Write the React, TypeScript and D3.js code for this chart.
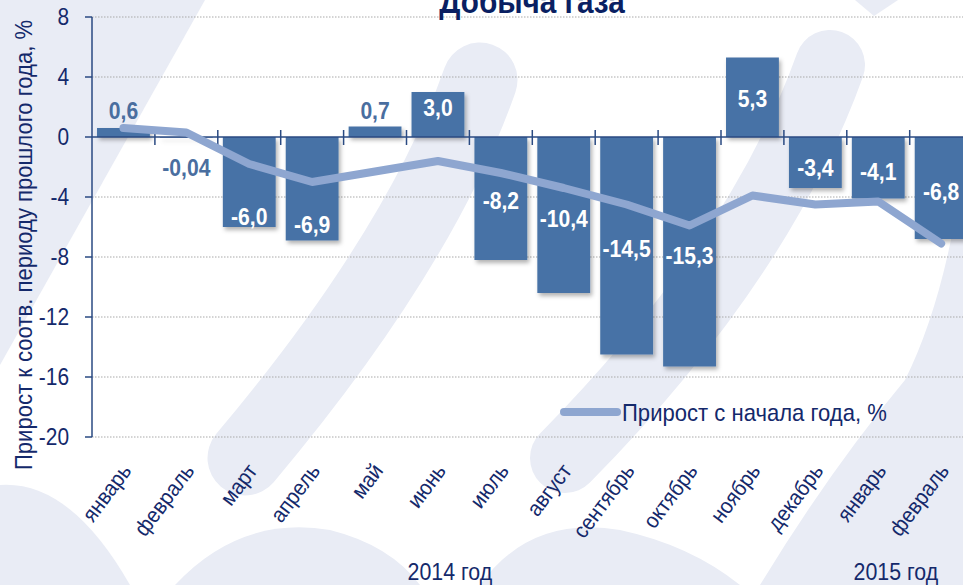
import React from 'react';
import * as d3 from 'd3';

const title = 'Добыча газа';
const yTitle = 'Прирост к соотв. периоду прошлого года, %';
const legendLabel = 'Прирост с начала года, %';
const months = ['январь', 'февраль', 'март', 'апрель', 'май', 'июнь', 'июль', 'август', 'сентябрь', 'октябрь', 'ноябрь', 'декабрь', 'январь', 'февраль'];
const yearLabels = ['2014 год', '2015 год'];
const yearAt = [5.69, 12.78];
const yoy = [0.6, -0.04, -6.0, -6.9, 0.7, 3.0, -8.2, -10.4, -14.5, -15.3, 5.3, -3.4, -4.1, -6.8];
const ytd = [0.6, 0.3, -1.8, -3.0, -2.3, -1.6, -2.4, -3.4, -4.5, -5.9, -3.9, -4.5, -4.3, -7.1];
const labelAt = [1.8, -2.0, -5.3, -5.8, 1.8, 2.0, -4.2, -5.4, -7.4, -7.9, 2.6, -2.0, -2.3, -3.6];
const yTicks = [-20, -16, -12, -8, -4, 0, 4, 8];

const W = 963;
const H = 585;
const NAVY = '#14296b';
const BAR = '#4672a6';
const LINE = '#8ea6d0';
const WM = '#e9ecf5';
const FONT = "'Liberation Sans', Arial, sans-serif";

const fmt = (v: number) => (Math.abs(v) < 0.1 && v !== 0 ? v.toFixed(2) : v.toFixed(1)).replace('.', ',');

type TP = { x: number; y: number; rot?: number; sx?: number; children: React.ReactNode; [k: string]: any };
function T({ x, y, rot = 0, sx = 0.9, children, ...rest }: TP) {
  return (
    <text transform={`translate(${x},${y}) rotate(${rot}) scale(${sx},1)`} {...rest}>
      {children}
    </text>
  );
}

export default function App() {
  const left = 92;
  const step = 62.9;
  const x = d3.scaleBand<number>().domain(d3.range(months.length)).range([left, left + step * months.length]).padding(0);
  const y = d3.scaleLinear().domain([-20, 8]).range([437, 17]);
  const barW = x.bandwidth() * 0.84;
  const cx = (i: number) => (x(i) as number) + x.bandwidth() / 2;
  const xAt = (k: number) => left + k * x.step();

  const line = d3.line<number>().x((_, i) => cx(i)).y((d) => y(d));

  return (
    <svg width={W} height={H} style={{ position: 'absolute', left: 0, top: 0, background: '#fff' }} fontFamily={FONT}>
      <defs>
        <filter id="sh" x="-20%" y="-20%" width="140%" height="140%">
          <feDropShadow dx="2" dy="3" stdDeviation="2" floodColor="#000" floodOpacity="0.3" />
        </filter>
      </defs>
      {/* watermark */}
      <g fill={WM} stroke="none">
        <path d="M0,0 L205,0 L0,365 Z" />
        <path d="M480,80 Q420,250 245,458" stroke={WM} strokeWidth={75} strokeLinecap="round" fill="none" />
        <path d="M830,65 Q760,260 565,458" stroke={WM} strokeWidth={70} strokeLinecap="round" fill="none" />
        <path d="M855,0 L898,0 L874,16 Z" />
        <path d="M963,170 L963,585 L760,585 Q830,470 905,380 Q945,300 963,170 Z" />
        <path d="M0,485 Q70,480 130,585 L0,585 Z" />
        <path d="M175,585 Q240,515 330,530 Q390,545 420,585 Z" />
        <path d="M480,585 Q530,515 620,530 Q690,545 740,585 Z" />
      </g>

      {/* grid */}
      {yTicks.filter((t) => t !== 0).map((t) => (
        <line key={t} x1={left} x2={W} y1={y(t)} y2={y(t)} stroke="#a9a9a9" strokeWidth={1} strokeDasharray="1.5 1.5" />
      ))}

      {/* bars */}
      <g filter="url(#sh)">
        {yoy.map((v, i) => (
          <rect key={i} x={cx(i) - barW / 2} width={barW} y={Math.min(y(v), y(0))} height={Math.abs(y(v) - y(0))} fill={BAR} />
        ))}
      </g>

      {/* axes */}
      <line x1={left} x2={left} y1={y(8)} y2={y(-20)} stroke="#2a4a82" strokeWidth={1.5} />
      {yTicks.map((t) => (
        <g key={t}>
          <line x1={left - 7} x2={left} y1={y(t)} y2={y(t)} stroke="#2a4a82" strokeWidth={1.5} />
          <T x={69} y={y(t)} sx={0.87} dy="0.35em" textAnchor="end" fontSize={24} fill={NAVY}>{t}</T>
        </g>
      ))}
      <line x1={left} x2={W} y1={y(0)} y2={y(0)} stroke="#2a4a82" strokeWidth={1.5} />
      {d3.range(1, months.length + 1).map((i) => (
        <line key={i} x1={xAt(i)} x2={xAt(i)} y1={y(0) - 7} y2={y(0) + 8} stroke="#2a4a82" strokeWidth={1.5} />
      ))}

      {/* cumulative line */}
      <path d={line(ytd) || ''} fill="none" stroke={LINE} strokeWidth={8} strokeLinecap="round" strokeLinejoin="round" />

      {/* bar labels */}
      {yoy.map((v, i) => {
        const inside = Math.abs(y(v) - y(0)) > 30;
        return (
          <T key={i} x={cx(i)} y={y(labelAt[i])} sx={0.88} dy="0.36em" textAnchor="middle" fontSize={24} fontWeight="bold" fill={inside ? '#fff' : '#4a6e9f'}>
            {fmt(v)}
          </T>
        );
      })}

      {/* x labels */}
      {months.map((m, i) => (
        <T key={i} x={cx(i) + 9} y={471} rot={-53} sx={0.92} textAnchor="end" fontSize={22} fill={NAVY}>
          {m}
        </T>
      ))}
      {yearLabels.map((l, i) => (
        <T key={l} x={xAt(yearAt[i])} y={580} sx={0.89} textAnchor="middle" fontSize={24} fill={NAVY}>{l}</T>
      ))}

      {/* y title */}
      <T x={32} y={245} rot={-90} sx={0.92} textAnchor="middle" fontSize={24} fill={NAVY}>{yTitle}</T>

      {/* title */}
      <T x={532} y={13} sx={0.9} textAnchor="middle" fontSize={33} fontWeight="bold" fill="#0a1f62">{title}</T>

      {/* legend */}
      <line x1={564} x2={617} y1={412} y2={412} stroke={LINE} strokeWidth={8} strokeLinecap="round" />
      <T x={622} y={421} sx={0.92} fontSize={24} fill={NAVY}>{legendLabel}</T>
    </svg>
  );
}
